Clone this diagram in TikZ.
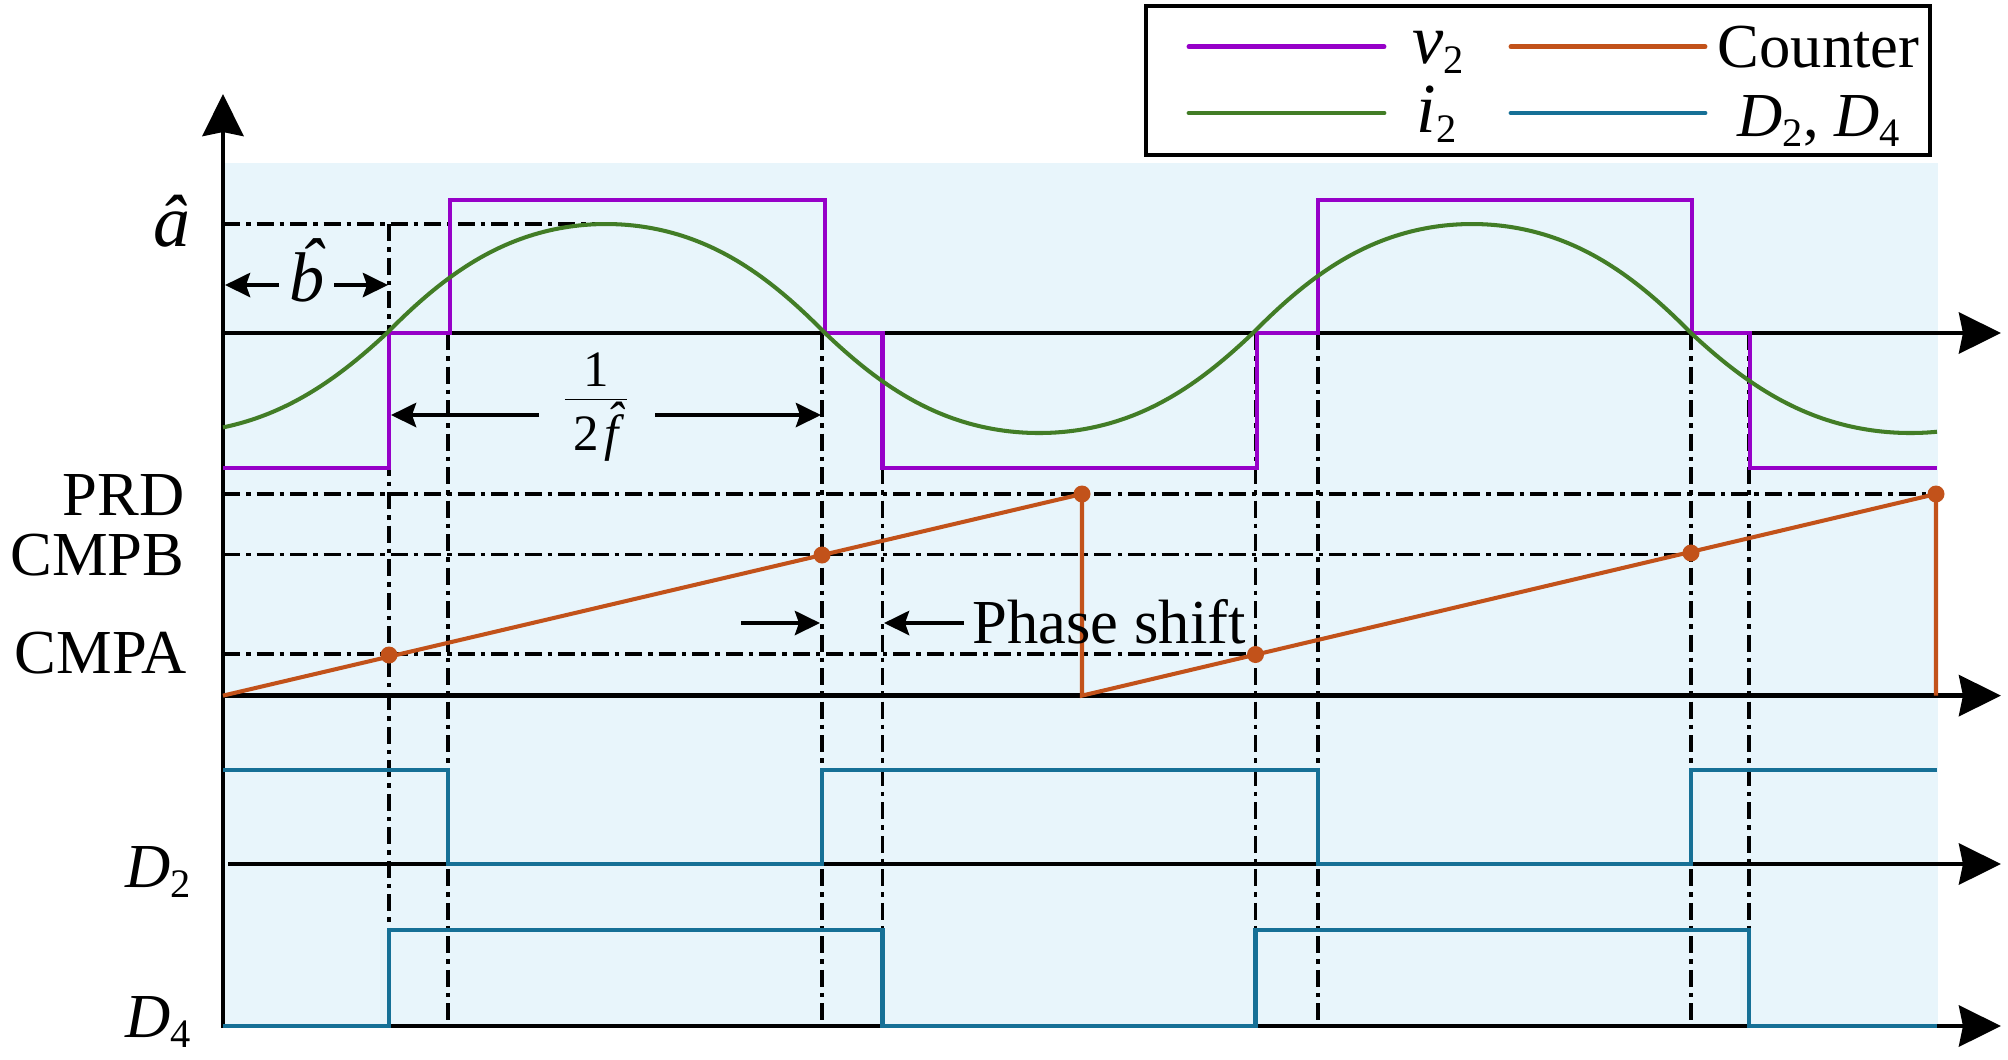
\documentclass[tikz,border=0pt]{standalone}
\usepackage{fontspec}
\setmainfont{Liberation Serif}
\usetikzlibrary{arrows.meta}
\definecolor{vcol}{RGB}{150,0,200}
\definecolor{icol}{RGB}{66,125,38}
\definecolor{ccol}{RGB}{194,82,26}
\definecolor{dcol}{RGB}{22,112,150}
\definecolor{bgcol}{RGB}{232,245,251}
\newcommand\ihat[1]{{\itshape\accent"02C6 #1}}
\newcommand\lsub[1]{\raisebox{-0.1cm}{\fontsize{11.5}{12}\selectfont #1}}
\newcommand\fracbox{\vbox{\offinterlineskip\halign{\hfil##\hfil\cr
\raisebox{0pt}[0.30cm][0pt]{1}\cr
\noalign{\kern0.12cm}
\vrule width 0.62cm height 0.014cm depth 0pt\cr
\noalign{\kern0.50cm}
\raisebox{0pt}[0pt][0pt]{2\kern0.05cm\ihat{f}}\cr}}}
\begin{document}
\begin{tikzpicture}[x=0.01cm,y=-0.01cm,
  lbl/.style={font=\fontsize{17.8}{21}\selectfont, inner sep=0pt},
  ax/.style={line width=1.3pt, -{Stealth[length=0.42cm,width=0.41cm,inset=0.04cm]}},
  sig/.style={line width=1.15pt, line join=miter},
  dd/.style={line width=1.1pt, dash pattern=on 0.17cm off 0.06cm on 0.045cm off 0.06cm},
  dimarrow/.style={line width=1.3pt, -{Stealth[length=0.25cm,width=0.24cm,inset=0.04cm]}},
  cdot/.style={circle, fill=ccol, inner sep=0pt, minimum size=0.17cm},
  leg/.style={line width=1.4pt, line cap=round}]
\useasboundingbox (0,0) rectangle (2008,1059);
\fill[bgcol] (223,163) rectangle (1938,1026);
% dash-dot guide lines
\draw[dd] (223,224) -- (608,224);
\draw[dd] (223,494) -- (1936,494);
\draw[dd] (223,554.5) -- (1691,554.5);
\draw[dd] (223,654) -- (1255.5,654);
\draw[dd] (389,224) -- (389,1026);
\draw[dd] (448,333) -- (448,1022);
\draw[dd] (822,333) -- (822,1022);
\draw[dd] (882.5,333) -- (882.5,1026);
\draw[dd] (1255.5,333) -- (1255.5,1026);
\draw[dd] (1318,333) -- (1318,1022);
\draw[dd] (1691,333) -- (1691,1022);
\draw[dd] (1749,333) -- (1749,1026);
% axes
\draw[ax] (223,1028) -- (223,94);
\draw[ax] (223,333) -- (2001,333);
\draw[ax] (223,695.6) -- (2001,695.6);
\draw[ax] (228,864) -- (2001,864);
\draw[ax] (223,1026) -- (2001,1026);
% v2
\draw[sig, vcol] (223,468) -- (389,468) -- (389,333) -- (450,333) -- (450,200) -- (824.7,200) -- (824.7,333) -- (882.5,333) -- (882.5,468) -- (1257,468) -- (1257,333) -- (1318,333) -- (1318,200) -- (1692,200) -- (1692,333) -- (1750,333) -- (1750,468) -- (1937,468);
% i2
\draw[sig, icol]
  plot[domain=223:387, samples=40] (\x, {333+100*sin((387-\x)/439*180)*(1.3-0.3*sin((387-\x)/439*180))})
  -- plot[domain=387:825, samples=90] (\x, {333-109*sin((\x-387)/438*180)*(1.3-0.3*sin((\x-387)/438*180))})
  -- plot[domain=825:1253, samples=90] (\x, {333+100*sin((\x-825)/428*180)*(1.3-0.3*sin((\x-825)/428*180))})
  -- plot[domain=1253:1691, samples=90] (\x, {333-109*sin((\x-1253)/438*180)*(1.3-0.3*sin((\x-1253)/438*180))})
  -- plot[domain=1691:1937, samples=50] (\x, {333+100*sin((\x-1691)/439*180)*(1.3-0.3*sin((\x-1691)/439*180))});
% counter
\draw[sig, ccol] (223,695.6) -- (1082,494) -- (1082,695.6) -- (1936,494) -- (1936,695.6);
% D2, D4
\draw[sig, dcol] (223,769.5) -- (448,769.5) -- (448,864) -- (822,864) -- (822,769.5) -- (1318,769.5) -- (1318,864) -- (1691,864) -- (1691,769.5) -- (1937,769.5);
\draw[sig, dcol] (223,1026) -- (389,1026) -- (389,930) -- (882.5,930) -- (882.5,1026) -- (1255.5,1026) -- (1255.5,930) -- (1749,930) -- (1749,1026) -- (1937,1026);
% dots
\node[cdot] (pa1) at (389,655) {};
\node[cdot] (pb1) at (822,555) {};
\node[cdot] (pr1) at (1082,494) {};
\node[cdot] (pa2) at (1255.5,654.5) {};
\node[cdot] (pb2) at (1691,553) {};
\node[cdot] (pr2) at (1936,494) {};
% dimension arrows
\coordinate (b1) at (279,285); \coordinate (b0) at (225,285);
\coordinate (b2) at (334,285); \coordinate (b3) at (388,285);
\draw[dimarrow] (b1) -- (b0);
\draw[dimarrow] (b2) -- (b3);
\coordinate (f1) at (539,415); \coordinate (f0) at (391,415);
\coordinate (f2) at (655,415); \coordinate (f3) at (821,415);
\draw[dimarrow] (f1) -- (f0);
\draw[dimarrow] (f2) -- (f3);
\coordinate (p1) at (741,623); \coordinate (p0) at (820,623);
\coordinate (p2) at (964,623); \coordinate (p3) at (884,623);
\draw[dimarrow] (p1) -- (p0);
\draw[dimarrow] (p2) -- (p3);
% labels
\node[lbl, anchor=base, font=\fontsize{21}{23}\selectfont] (ahat) at (172,246) {\textit{â}};
\node[lbl, anchor=base, font=\fontsize{20}{22}\selectfont] (bhat) at (307,301) {\ihat{b}};
\node[inner sep=0pt, anchor=base, font=\fontsize{14.5}{16}\selectfont] (frac) at (596,450) {\fracbox};
\node[lbl, anchor=base east] (prd) at (185,515) {PRD};
\node[lbl, anchor=base east] (cmpb) at (185,575) {CMPB};
\node[lbl, anchor=base east] (cmpa) at (187,673) {CMPA};
\node[lbl, anchor=base west] (d2) at (125,887) {\textit{D}\lsub{2}};
\node[lbl, anchor=base west] (d4) at (125,1037) {\textit{D}\lsub{4}};
\node[lbl, anchor=base west] (ps) at (972,643) {Phase shift};
% legend
\node[draw, line width=1.2pt, minimum width=7.84cm, minimum height=1.49cm, inner sep=0pt] (legend) at (1538,80.5) {};
\draw[leg, vcol] (1189,46.7) -- (1384,46.7);
\draw[leg, ccol] (1511,46.7) -- (1705,46.7);
\draw[leg, icol] (1189,113) -- (1384,113);
\draw[leg, dcol] (1511,113) -- (1705,113);
\node[lbl, anchor=base west, font=\fontsize{20}{22}\selectfont] (lv) at (1412,63) {\textit{v}\lsub{2}};
\node[lbl, anchor=base west] (lc) at (1717,67) {Counter};
\node[lbl, anchor=base west, font=\fontsize{20}{22}\selectfont] (li) at (1416,132) {\textit{i}\lsub{2}};
\node[lbl, anchor=base west] (ld) at (1737,136) {\textit{D}\lsub{2}, \textit{D}\lsub{4}};
\end{tikzpicture}
\end{document}
